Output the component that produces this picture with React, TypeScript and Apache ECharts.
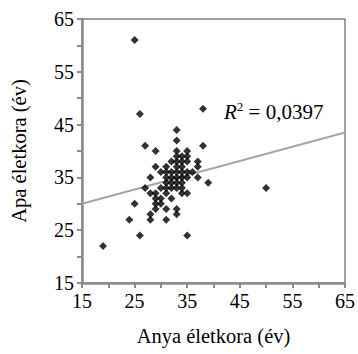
import React, { useEffect, useRef } from "react";
import * as echarts from "echarts";

// Mother's age (x) and father's age (y)
const motherAge: number[] = [
  25, 26, 38, 27, 29, 33, 33, 38, 39, 50, 19, 24, 26, 35, 25, 27, 28, 28, 28, 28, 29, 31, 31, 33, 33, 35,
  29, 29, 29, 29,
  30, 30, 30, 30,
  31, 31, 31, 31, 31, 31,
  32, 32, 32, 32, 32, 32,
  33, 33, 33, 33, 33, 33, 33, 33,
  34, 34, 34, 34, 34, 34, 34, 34,
  35, 35, 35, 35, 35,
  36,
  37, 37, 37,
];
const fatherAge: number[] = [
  61, 47, 48, 41, 40, 44, 42, 41, 34, 33, 22, 27, 24, 24, 30, 33, 35, 32, 28, 27, 37, 27, 29, 29, 28, 32,
  32, 31, 30, 29,
  36, 33, 31, 30,
  37, 36, 35, 34, 33, 32,
  38, 36, 35, 34, 33, 31,
  40, 39, 38, 37, 36, 35, 34, 33,
  39, 38, 37, 36, 35, 34, 33, 32,
  40, 39, 38, 36, 35,
  36,
  38, 37, 35,
];

// Trendline end points
const trendX: number[] = [15, 65];
const trendY: number[] = [30.0, 43.5];

const axisTicks: number[] = [15, 25, 35, 45, 55, 65];
const rSquaredText = "0,0397";

export default function App() {
  const ref = useRef<HTMLDivElement>(null);
  useEffect(() => {
    if (!ref.current) return;
    const chart = echarts.init(ref.current, null, { renderer: "svg" });
    const font = "Liberation Serif, Times New Roman, serif";
    const points = motherAge.map((x, i) => [x, fatherAge[i]]);
    const trend = trendX.map((x, i) => [x, trendY[i]]);
    const labelFmt = (v: number) => (axisTicks.includes(v) ? String(v) : "");
    const axisCommon = {
      type: "value" as const,
      min: 15,
      max: 65,
      interval: 5,
      nameLocation: "middle" as const,
      nameTextStyle: { fontFamily: font, fontSize: 20.5, color: "#000" },
      axisLine: { show: true, lineStyle: { color: "#8c8c8c", width: 2.5 } },
      axisTick: { show: true, inside: false, length: 5, lineStyle: { color: "#8c8c8c", width: 2 } },
      axisLabel: { fontFamily: font, fontSize: 20, color: "#000", formatter: labelFmt, margin: 8 },
      splitLine: { show: false },
    };
    chart.setOption({
      animation: false,
      grid: {
        left: 82,
        right: 12,
        top: 19,
        bottom: 71,
        show: true,
        borderColor: "#404040",
        borderWidth: 1,
        containLabel: false,
      },
      xAxis: { ...axisCommon, name: "Anya életkora (év)", nameGap: 42 },
      yAxis: { ...axisCommon, name: "Apa életkora (év)", nameGap: 53 },
      series: [
        {
          type: "line",
          data: trend,
          showSymbol: false,
          symbol: "none",
          lineStyle: { color: "#a6a6a6", width: 2 },
          z: 1,
        },
        {
          type: "scatter",
          data: points,
          symbol: "diamond",
          symbolSize: 8,
          itemStyle: { color: "#000" },
          z: 2,
        },
      ],
      graphic: [
        {
          type: "text",
          left: 224,
          top: 100,
          style: {
            text: "{r|R}{s|2}{n| = " + rSquaredText + "}",
            rich: {
              r: { fontFamily: font, fontSize: 21, fontStyle: "italic", fill: "#000", verticalAlign: "bottom" },
              s: { fontFamily: font, fontSize: 13, fill: "#000", verticalAlign: "top", padding: [0, 0, 9, 0] },
              n: { fontFamily: font, fontSize: 21, fill: "#000", verticalAlign: "bottom" },
            },
          },
        },
      ],
    });
    return () => chart.dispose();
  }, []);
  return (
    <div
      ref={ref}
      style={{ position: "absolute", left: 0, top: 0, width: 358, height: 354 }}
    />
  );
}
